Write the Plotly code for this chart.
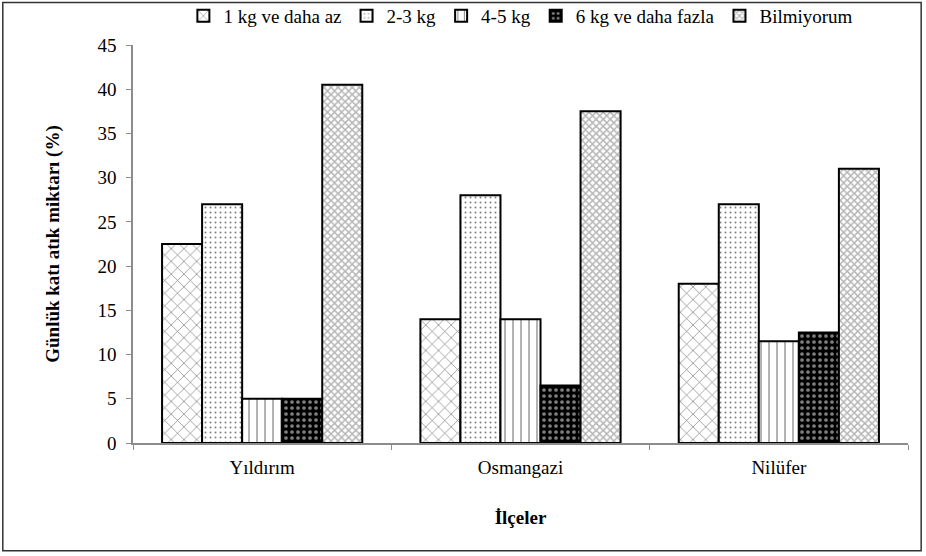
import plotly.graph_objects as go

categories = ["Yıldırım", "Osmangazi", "Nilüfer"]
series_names = ["1 kg ve daha az", "2-3 kg", "4-5 kg", "6 kg ve daha fazla", "Bilmiyorum"]
v_1kg = [22.5, 14, 18]
v_23kg = [27, 28, 27]
v_45kg = [5, 14, 11.5]
v_6kg = [5, 6.5, 12.5]
v_bilmiyorum = [40.5, 37.5, 31]
y_ticks = [0, 5, 10, 15, 20, 25, 30, 35, 40, 45]

values = [v_1kg, v_23kg, v_45kg, v_6kg, v_bilmiyorum]
patterns = [
    dict(shape="x", fgcolor="black", bgcolor="white", size=9, solidity=0.15),
    dict(shape=".", fgcolor="black", bgcolor="white", size=5, solidity=0.12),
    dict(shape="|", fgcolor="black", bgcolor="white", size=8, solidity=0.15),
    dict(shape=".", fgcolor="white", bgcolor="black", size=6, solidity=0.3),
    dict(shape="x", fgcolor="#6e6e6e", bgcolor="white", size=5, solidity=0.5),
]

fig = go.Figure()
for name, vals, pat in zip(series_names, values, patterns):
    fig.add_trace(go.Bar(
        x=categories, y=vals, name=name,
        marker=dict(color="white", pattern=pat, line=dict(color="black", width=2)),
    ))

font = "Liberation Serif"
fig.update_layout(
    width=926, height=556,
    margin=dict(l=133, r=18, t=45, b=113, autoexpand=False),
    paper_bgcolor="white", plot_bgcolor="white",
    barmode="group", bargap=0.225, bargroupgap=0,
    font=dict(family=font, size=19, color="black"),
    showlegend=True,
    legend=dict(orientation="h", x=0.065, y=1.073, xanchor="left", yanchor="middle",
                font=dict(family=font, size=19), itemwidth=30, tracegroupgap=0,
                bgcolor="rgba(0,0,0,0)"),
    xaxis=dict(
        showline=True, linecolor="#8c8c8c", linewidth=1.5,
        ticks="outside", tickson="boundaries", ticklen=5, tickcolor="#8c8c8c",
        showgrid=False, ticklabelstandoff=6,
        title=dict(text="<b>İlçeler</b>", font=dict(family=font, size=19), standoff=34),
    ),
    yaxis=dict(
        range=[0, 45], tickvals=y_ticks,
        showline=True, linecolor="#8c8c8c", linewidth=1.5,
        ticks="outside", ticklen=5, tickcolor="#8c8c8c",
        showgrid=False, zeroline=False, ticklabelstandoff=6,
        title=dict(text="<b>Günlük katı atık miktarı (%)</b>", font=dict(family=font, size=19), standoff=33),
    ),
    shapes=[dict(type="rect", xref="paper", yref="paper",
                 x0=-0.168, x1=1.017, y0=-0.271, y1=1.107,
                 line=dict(color="#333333", width=1.5), fillcolor="rgba(0,0,0,0)")],
)

fig.write_html("out.html", config={"displayModeBar": False},
               post_script="document.body.style.margin='0';document.body.style.padding='0';")
